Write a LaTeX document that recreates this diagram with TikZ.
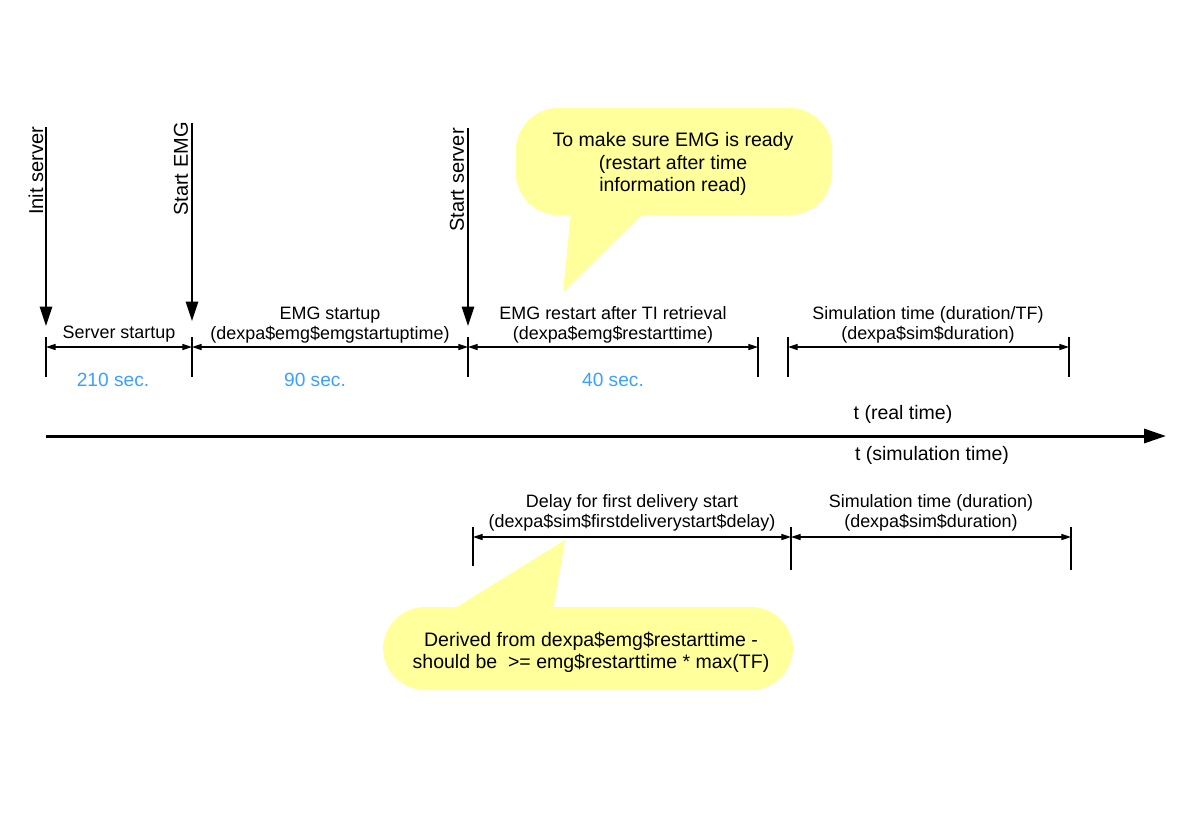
\documentclass[tikz,border=0pt]{standalone}
\usepackage{fontspec}
\setmainfont{Liberation Sans}
\usetikzlibrary{arrows.meta}
\definecolor{callout}{RGB}{255,255,155}
\definecolor{secblue}{RGB}{60,160,255}
\begin{document}
\begin{tikzpicture}[x=0.02cm,y=-0.02cm,
  lbl/.style={font=\fontsize{10.2}{11.5}\selectfont, inner sep=0, align=center},
  big/.style={font=\fontsize{11.1}{12.7}\selectfont, inner sep=0, align=center},
  vert/.style={font=\fontsize{11.4}{13}\selectfont, inner sep=0, rotate=90},
  sec/.style={font=\fontsize{10.9}{12.5}\selectfont, inner sep=0, text=secblue},
  eventarrow/.style={-{Triangle[length=11pt,width=7pt]}, line width=0.9pt},
  tickline/.style={line width=0.8pt},
  dimline/.style={{Triangle[length=5.5pt,width=3.5pt]}-{Triangle[length=5.5pt,width=3.5pt]}, line width=0.6pt},
  axisline/.style={-{Triangle[length=12.5pt,width=8pt]}, line width=1.7pt},
  bubble/.style={fill=callout, draw=none}
]
\useasboundingbox (0,0) rectangle (1183,836);

% callouts
\fill[bubble, rounded corners=24] (516,108) rectangle (832,215);
\fill[bubble] (571,212) -- (563,292) -- (645,212) -- cycle;
\node[big] (note1) at (673,164) {To make sure EMG is ready\\(restart after time\\information read)};

\fill[bubble, rounded corners=24] (383,607) rectangle (793,690);
\fill[bubble] (452,610) -- (565,540) -- (553,610) -- cycle;
\node[big] (note2) at (591,652) {Derived from dexpa\$emg\$restarttime -\\should be \ >= emg\$restarttime * max(TF)};

% event arrows
\coordinate (e1s) at (46,127);  \coordinate (e1e) at (46,326);
\coordinate (e2s) at (192,123); \coordinate (e2e) at (192,321);
\coordinate (e3s) at (468,128); \coordinate (e3e) at (468,326);
\draw[eventarrow] (e1s) -- (e1e);
\draw[eventarrow] (e2s) -- (e2e);
\draw[eventarrow] (e3s) -- (e3e);
\node[vert] (ev1) at (36,171) {Init server};
\node[vert] (ev2) at (181,169) {Start EMG};
\node[vert] (ev3) at (457,180) {Start server};

% top ticks
\foreach \x in {46,192,468,758,788,1069} {
  \draw[tickline] (\x,337) -- (\x,377);
}
\coordinate (a0) at (46,347);
\coordinate (a1) at (192,347);
\coordinate (a2) at (468,347);
\coordinate (a3) at (758,347);
\coordinate (a4) at (788,347);
\coordinate (a5) at (1069,347);
\draw[dimline] (a0) -- (a1);
\draw[dimline] (a1) -- (a2);
\draw[dimline] (a2) -- (a3);
\draw[dimline] (a4) -- (a5);

\node[lbl] (l1) at (119,334) {Server startup};
\node[lbl] (l2) at (330,325) {EMG startup\\(dexpa\$emg\$emgstartuptime)};
\node[lbl] (l3) at (613,325) {EMG restart after TI retrieval\\(dexpa\$emg\$restarttime)};
\node[lbl] (l4) at (928,325) {Simulation time (duration/TF)\\(dexpa\$sim\$duration)};

\node[sec] (s1) at (113,380) {210 sec.};
\node[sec] (s2) at (315,380) {90 sec.};
\node[sec] (s3) at (613,380) {40 sec.};

% axis
\coordinate (ax0) at (46,436);
\coordinate (ax1) at (1166,436);
\draw[axisline] (ax0) -- (ax1);
\node[big] (rt) at (903,414) {t (real time)};
\node[big] (st) at (932,455) {t (simulation time)};

% bottom ticks
\draw[tickline] (473,527) -- (473,566);
\draw[tickline] (791,527) -- (791,570);
\draw[tickline] (1071,527) -- (1071,570);
\coordinate (b0) at (473,537);
\coordinate (b1) at (791,537);
\coordinate (b2) at (1071,537);
\draw[dimline] (b0) -- (b1);
\draw[dimline] (b1) -- (b2);
\node[lbl] (l5) at (632,513) {Delay for first delivery start\\(dexpa\$sim\$firstdeliverystart\$delay)};
\node[lbl] (l6) at (931,513) {Simulation time (duration)\\(dexpa\$sim\$duration)};
\end{tikzpicture}
\end{document}
